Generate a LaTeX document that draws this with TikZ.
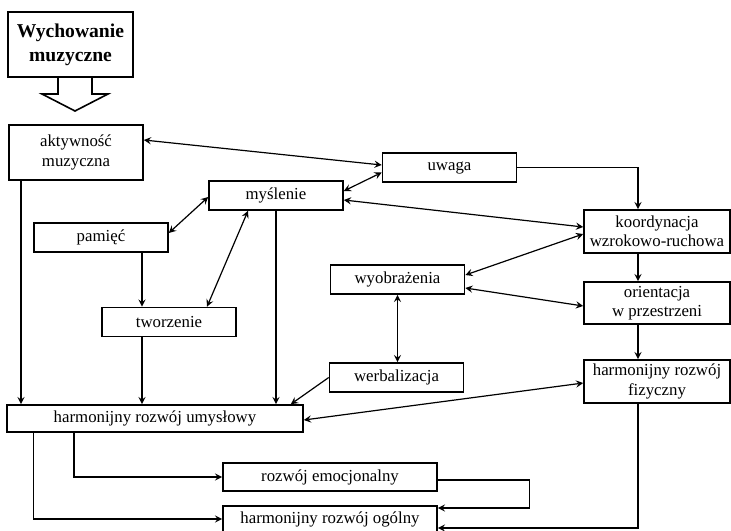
\documentclass[tikz,border=0pt]{standalone}
\usepackage{fontspec}
\setmainfont{Liberation Serif}
\usetikzlibrary{arrows}

\begin{document}
\begin{tikzpicture}[x=0.5pt,y=-0.5pt,
    box/.style={draw, line width=0.8pt, rectangle, align=center, inner sep=1pt,
      minimum width=67pt, minimum height=14.5pt,
      font=\fontsize{8.4}{9.6}\selectfont},
    rbox/.style={box, minimum width=73pt, minimum height=21.5pt},
    conn/.style={line width=0.6pt}, >=stealth]

  \useasboundingbox (0,0) rectangle (731,530);

  \node[box, line width=1pt, minimum width=62.5pt, minimum height=32.5pt,
    font=\fontsize{9.8}{12}\selectfont\bfseries] (wych) at (70.5,44.5) {Wychowanie\\muzyczne};
  \node[box, minimum height=27.5pt] (akt) at (76,152.5) {aktywność\\muzyczna};
  \node[box] (uwaga) at (449.5,167.5) {uwaga};
  \node[box] (mysl) at (276,195.5) {myślenie};
  \node[box] (pam) at (101,237.5) {pamięć};
  \node[box] (tworz) at (169,322) {tworzenie};
  \node[box] (wyob) at (397.5,279.5) {wyobrażenia};
  \node[box] (werb) at (396.5,377.5) {werbalizacja};
  \node[rbox, inner sep=0pt] (koord) at (657,231.5) {koordynacja\\wzrokowo-ruchowa};
  \node[rbox, minimum height=21pt] (orient) at (657,303) {orientacja\\w przestrzeni};
  \node[rbox] (fiz) at (657,381.5) {harmonijny rozwój\\fizyczny};
  \node[box, minimum width=148pt, minimum height=13.5pt] (umysl) at (155,418.5) {harmonijny rozwój umysłowy};
  \node[box, minimum width=107pt, minimum height=14pt] (emoc) at (330,477) {rozwój emocjonalny};
  \node[box, minimum width=107pt, minimum height=13pt] (ogol) at (330,519) {harmonijny rozwój ogólny};

  % big arrow under the title
  \draw[line width=0.8pt, fill=white] (wych.south) ++(-12.5,0) -- ++(0,16) -- ++(-16,0)
    -- ++(33,17) -- ++(33,-17) -- ++(-16,0) -- ++(0,-16);

  % upper part
  \draw[conn,<->] ([yshift=6.25pt]akt.east) -- ([yshift=1.25pt]uwaga.west);
  \draw[conn,<->] ([yshift=2.25pt]mysl.east) -- ([yshift=-2.5pt]uwaga.west);
  \draw[conn,->] (uwaga.east) -| ([xshift=-9.5pt]koord.north);
  \draw[conn,<->] ([yshift=-2.25pt]mysl.east) -- ([yshift=2.25pt]koord.west);
  \draw[conn,<->] ([yshift=-0.75pt]mysl.west) -- ([yshift=2.25pt]pam.east);
  \draw[conn,<->] ([xshift=-14pt]mysl.south) -- ([xshift=19pt]tworz.north);
  \draw[conn,->] ([xshift=20.5pt]pam.south) -- ([xshift=20.5pt]pam.south |- tworz.north);
  \draw[conn,<->] ([yshift=2.25pt]wyob.east) -- ([yshift=-1.25pt]koord.west);
  \draw[conn,<->] ([yshift=-4.25pt]wyob.east) -- ([yshift=-1.5pt]orient.west);
  \draw[conn,<->] (wyob.south) -- (wyob.south |- werb.north);
  \draw[conn,->] ([xshift=-9.5pt]koord.south) -- ([xshift=-9.5pt]orient.north);
  \draw[conn,->] ([xshift=-9.5pt]orient.south) -- ([xshift=-9.5pt]fiz.north);

  % into harmonijny rozwoj umyslowy
  \draw[conn,->] ([xshift=-27.5pt]akt.south) -- ([xshift=-27.5pt]akt.south |- umysl.north);
  \draw[conn,->] ([xshift=-13.5pt]tworz.south) -- ([xshift=-13.5pt]tworz.south |- umysl.north);
  \draw[conn,->] (mysl.south) -- (mysl.south |- umysl.north);
  \draw[conn,->] (werb.west) -- ([xshift=-6.5pt]umysl.north east);
  \draw[conn,<->] ([yshift=-0.75pt]umysl.east) -- ([yshift=-0.75pt]fiz.west);

  % lower part
  \draw[conn,->] ([xshift=-40.5pt]umysl.south) |- (emoc.west);
  \draw[conn,->] ([xshift=-60.75pt]umysl.south) |- (ogol.west);
  \draw[conn,->] ([yshift=-1.5pt]emoc.east) -- ++(92,0) |- ([yshift=5.5pt]ogol.east);
  \draw[conn,->] ([xshift=-9.5pt]fiz.south) |- ([yshift=-4.5pt]ogol.east);
\end{tikzpicture}
\end{document}
